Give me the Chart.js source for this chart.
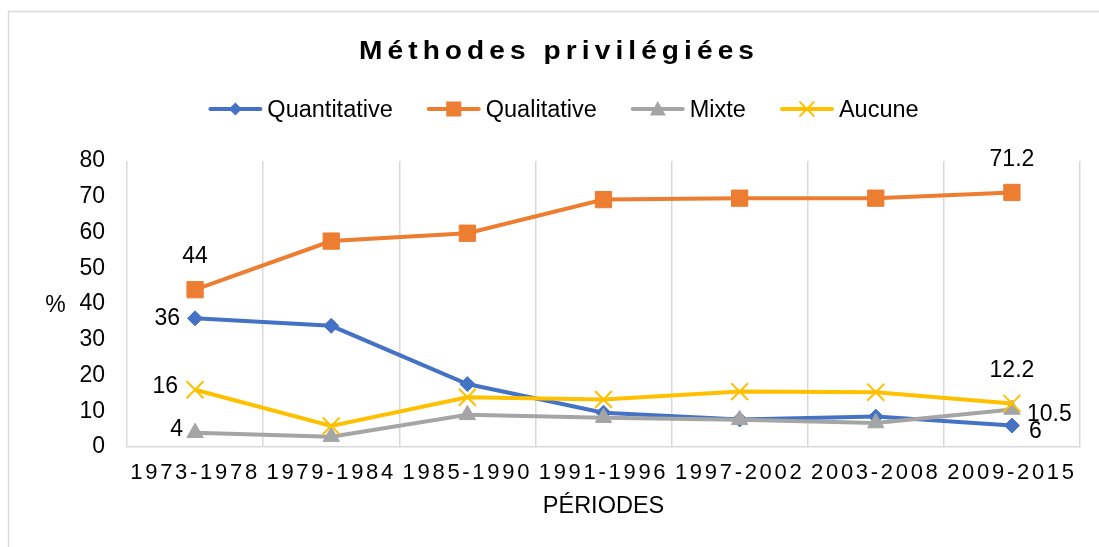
<!DOCTYPE html>
<html>
<head>
<meta charset="utf-8">
<script src="https://cdn.jsdelivr.net/npm/chart.js@4/dist/chart.umd.min.js"></script>
<style>
html,body{margin:0;padding:0;background:#fff;}
#wrap{width:1099px;height:547px;position:relative;}
</style>
</head>
<body>
<div id="wrap"><canvas id="c" width="1099" height="547"></canvas></div>
<script>
// ---- data ----
const chartTitle = 'Méthodes privilégiées';
const xAxisTitle = 'PÉRIODES';
const yAxisTitle = '%';
const periods = ['1973-1978', '1979-1984', '1985-1990', '1991-1996', '1997-2002', '2003-2008', '2009-2015'];
const seriesNames = ['Quantitative', 'Qualitative', 'Mixte', 'Aucune'];
const quantitative = [36, 33.9, 17.6, 9.6, 7.7, 8.5, 6];
const qualitative = [44, 57.6, 59.8, 69.2, 69.6, 69.6, 71.2];
const mixte = [4, 2.9, 9.0, 8.2, 7.6, 6.7, 10.5];
const aucune = [16, 5.9, 13.9, 13.3, 15.5, 15.3, 12.2];
const yTickValues = [0, 10, 20, 30, 40, 50, 60, 70, 80];
// indices of points that carry a value label
const labelledPoints = [0, 6];

// ---- styles ----
const FONT = '"Liberation Sans", Arial, Helvetica, sans-serif';
const GRID = '#d9d9d9';
const colors = ['#4472C4', '#ED7D31', '#A5A5A5', '#FFC000'];
const styles = ['rectRot', 'rect', 'triangle', 'crossRot'];
const radii = [7.5, 11.5, 9.5, 12];
// label placement per series: [first point, last point]
const labelPlace = [
  [{pos: 'left', dx: -15, dy: 0}, {pos: 'right', dx: 17, dy: 6}],
  [{pos: 'above', dx: 0, dy: -33}, {pos: 'above', dx: 0, dy: -33}],
  [{pos: 'left', dx: -12, dy: -3}, {pos: 'right', dx: 15, dy: 5}],
  [{pos: 'left', dx: -17, dy: -3}, {pos: 'above', dx: 0, dy: -33}]
];

const allSeries = [quantitative, qualitative, mixte, aucune];

function drawMarker(ctx, style, x, y, r, color) {
  ctx.save();
  ctx.fillStyle = color;
  ctx.strokeStyle = color;
  ctx.beginPath();
  if (style === 'rectRot') {
    ctx.moveTo(x, y - r); ctx.lineTo(x + r, y); ctx.lineTo(x, y + r); ctx.lineTo(x - r, y); ctx.closePath(); ctx.fill();
  } else if (style === 'rect') {
    ctx.rect(x - r, y - r, 2 * r, 2 * r); ctx.fill();
  } else if (style === 'triangle') {
    ctx.moveTo(x, y - r); ctx.lineTo(x + r, y + r * 0.8); ctx.lineTo(x - r, y + r * 0.8); ctx.closePath(); ctx.fill();
  } else if (style === 'crossRot') {
    ctx.lineWidth = 1.8;
    ctx.moveTo(x - r, y - r); ctx.lineTo(x + r, y + r);
    ctx.moveTo(x + r, y - r); ctx.lineTo(x - r, y + r);
    ctx.stroke();
  }
  ctx.restore();
}

const decorPlugin = {
  id: 'decor',
  beforeDraw(chart) {
    const xs = chart.scales.x;
    if (xs && !xs._spaced) {
      const orig = xs.drawLabels.bind(xs);
      xs.drawLabels = function (area) {
        const c = chart.ctx;
        c.save();
        c.letterSpacing = '2.7px';
        orig(area);
        c.restore();
      };
      xs._spaced = true;
    }
  },
  afterDraw(chart) {
    const ctx = chart.ctx;
    ctx.save();
    // outer frame (partially visible)
    ctx.strokeStyle = GRID;
    ctx.lineWidth = 1.5;
    ctx.beginPath();
    ctx.moveTo(8.5, 547); ctx.lineTo(8.5, 11.5); ctx.lineTo(1099, 11.5);
    ctx.stroke();

    // title (slightly widened glyphs, spaced letters)
    ctx.save();
    ctx.fillStyle = '#000';
    ctx.font = 'bold 26px ' + FONT;
    const sp = 4.7, sx = 1.08;
    ctx.letterSpacing = sp + 'px';
    ctx.textBaseline = 'alphabetic';
    ctx.textAlign = 'left';
    const tw = (ctx.measureText(chartTitle).width - sp) * sx;
    ctx.translate(556.5 - tw / 2, 58.5);
    ctx.scale(sx, 1);
    ctx.fillText(chartTitle, 0, 0);
    ctx.restore();

    // y-axis title, upright
    ctx.fillStyle = '#000';
    ctx.font = '23px ' + FONT;
    ctx.textAlign = 'center';
    ctx.textBaseline = 'alphabetic';
    ctx.fillText(yAxisTitle, 55.5, 312);

    // legend
    ctx.font = '23.5px ' + FONT;
    const lineLen = 54, gapText = 5, gapItem = 34;
    const widths = seriesNames.map(n => ctx.measureText(n).width);
    const total = widths.reduce((a, w) => a + lineLen + gapText + w, 0) + gapItem * (seriesNames.length - 1);
    let lx = 563.5 - total / 2;
    const ly = 109;
    ctx.textAlign = 'left';
    seriesNames.forEach((name, i) => {
      ctx.strokeStyle = colors[i];
      ctx.lineWidth = 4;
      ctx.lineCap = 'round';
      ctx.beginPath();
      ctx.moveTo(lx + 2, ly); ctx.lineTo(lx + lineLen - 2, ly);
      ctx.stroke();
      const lr = [6.5, 7.5, 8, 7][i];
      drawMarker(ctx, styles[i], lx + lineLen / 2, ly, lr, colors[i]);
      ctx.fillStyle = '#000';
      ctx.fillText(name, lx + lineLen + gapText, 116.5);
      lx += lineLen + gapText + widths[i] + gapItem;
    });

    // value labels
    ctx.font = '23px ' + FONT;
    ctx.textBaseline = 'middle';
    ctx.fillStyle = '#000';
    allSeries.forEach((vals, si) => {
      const meta = chart.getDatasetMeta(si);
      labelledPoints.forEach((idx, k) => {
        const pt = meta.data[idx];
        const p = labelPlace[si][k];
        ctx.textAlign = p.pos === 'left' ? 'right' : (p.pos === 'right' ? 'left' : 'center');
        ctx.fillText(String(vals[idx]), pt.x + p.dx, pt.y + p.dy);
      });
    });
    ctx.restore();
  }
};

const datasets = seriesNames.map((name, i) => ({
  label: name,
  data: allSeries[i],
  borderColor: colors[i],
  backgroundColor: colors[i],
  borderWidth: 4,
  pointStyle: styles[i],
  pointRadius: radii[i],
  pointBorderWidth: i === 3 ? 2 : 1,
  pointBackgroundColor: colors[i],
  pointBorderColor: colors[i],
  tension: 0,
  order: 4 - i
}));

new Chart(document.getElementById('c'), {
  type: 'line',
  data: {labels: periods, datasets},
  plugins: [decorPlugin],
  options: {
    responsive: false,
    animation: false,
    devicePixelRatio: 1,
    layout: {padding: {top: 161, left: 0, right: 19, bottom: 0}},
    plugins: {
      legend: {display: false},
      title: {display: false},
      tooltip: {enabled: false}
    },
    scales: {
      x: {
        type: 'category',
        offset: true,
        grid: {display: true, offset: true, color: GRID, lineWidth: 1.5, drawTicks: false},
        border: {display: true, color: GRID, width: 1.5},
        ticks: {font: {family: FONT, size: 22}, color: '#000', padding: 13, maxRotation: 0, autoSkip: false},
        title: {display: true, text: xAxisTitle, color: '#000', font: {family: FONT, size: 23.5}, padding: {top: 0, bottom: 26}},
        afterFit: s => { s.height = 100; }
      },
      y: {
        min: 0,
        max: 80,
        grid: {display: false, drawTicks: false},
        border: {display: false},
        ticks: {font: {family: FONT, size: 23}, color: '#000', padding: 22},
        afterBuildTicks: s => { s.ticks = yTickValues.map(v => ({value: v})); },
        afterFit: s => { s.width = 127; }
      }
    }
  }
});
</script>
</body>
</html>
